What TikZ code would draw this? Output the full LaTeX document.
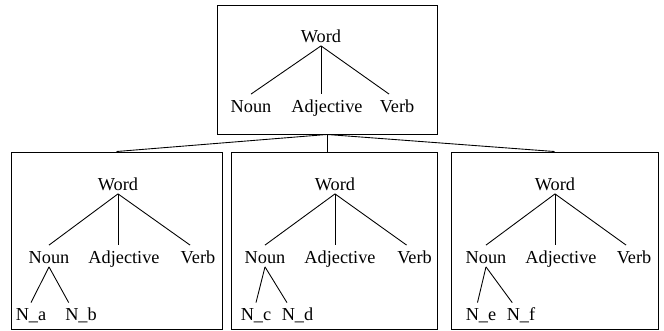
\documentclass[tikz,border=0pt]{standalone}
\usepackage{fontspec}
\setmainfont{Liberation Serif}
\usetikzlibrary{positioning}

\begin{document}
\begin{tikzpicture}[
    item/.style={inner sep=1pt, text height=9pt, text depth=1pt, font=\fontsize{10.4pt}{12pt}\selectfont},
    frame/.style={draw, line width=0.55pt, inner sep=0pt, minimum height=3.54cm},
    branch/.style={line width=0.5pt},
    link/.style={line width=0.5pt}
]
    \useasboundingbox (0,0) rectangle (13.28,-6.62);

    % Frames
    \node[frame, minimum width=4.40cm, minimum height=2.58cm] (topbox) at (6.54,-1.39) {};
    \node[frame, minimum width=4.22cm] (leftbox) at (2.33,-4.81) {};
    \node[frame, minimum width=4.12cm] (midbox) at (6.68,-4.81) {};
    \node[frame, minimum width=4.14cm] (rightbox) at (11.09,-4.81) {};

    % Links between frames
    \draw[link] (topbox.south) -- (leftbox.north);
    \draw[link] (topbox.south) -- (topbox.south |- midbox.north);
    \draw[link] (topbox.south) -- (rightbox.north);

    % Top tree
    \node[item] (word0) at (6.42,-0.70) {Word};
    \node[item] (noun0) at (5.02,-2.10) {Noun};
    \node[item] (adj0) at (6.54,-2.10) {Adjective};
    \node[item] (verb0) at (7.94,-2.10) {Verb};
    \draw[branch] (word0.south) -- (noun0.north);
    \draw[branch] (word0.south) -- (word0.south |- adj0.north);
    \draw[branch] (word0.south) -- ([xshift=-4.5pt]verb0.north);

    % Left tree
    \node[item] (word1) at (2.36,-3.66) {Word};
    \node[item] (noun1) at (0.98,-5.12) {Noun};
    \node[item] (adj1) at (2.48,-5.12) {Adjective};
    \node[item] (verb1) at (3.96,-5.12) {Verb};
    \node[item] (na) at (0.62,-6.27) {N\_a};
    \node[item] (nb) at (1.62,-6.27) {N\_b};
    \draw[branch] (word1.south) -- (noun1.north);
    \draw[branch] (word1.south) -- (word1.south |- adj1.north);
    \draw[branch] (word1.south) -- ([xshift=-4.5pt]verb1.north);
    \draw[branch] (noun1.south) -- (na.north);
    \draw[branch] (noun1.south) -- ([xshift=-7pt]nb.north);

    % Middle tree
    \node[item] (word2) at (6.70,-3.66) {Word};
    \node[item] (noun2) at (5.30,-5.12) {Noun};
    \node[item] (adj2) at (6.80,-5.12) {Adjective};
    \node[item] (verb2) at (8.29,-5.12) {Verb};
    \node[item] (nc) at (5.12,-6.27) {N\_c};
    \node[item] (nd) at (5.95,-6.27) {N\_d};
    \draw[branch] (word2.south) -- (noun2.north);
    \draw[branch] (word2.south) -- (word2.south |- adj2.north);
    \draw[branch] (word2.south) -- ([xshift=-4.5pt]verb2.north);
    \draw[branch] (noun2.south) -- (nc.north);
    \draw[branch] (noun2.south) -- ([xshift=-6pt]nd.north);

    % Right tree
    \node[item] (word3) at (11.10,-3.66) {Word};
    \node[item] (noun3) at (9.72,-5.12) {Noun};
    \node[item] (adj3) at (11.22,-5.12) {Adjective};
    \node[item] (verb3) at (12.68,-5.12) {Verb};
    \node[item] (ne) at (9.62,-6.27) {N\_e};
    \node[item] (nf) at (10.42,-6.27) {N\_f};
    \draw[branch] (word3.south) -- (noun3.north);
    \draw[branch] (word3.south) -- (word3.south |- adj3.north);
    \draw[branch] (word3.south) -- ([xshift=-4.5pt]verb3.north);
    \draw[branch] (noun3.south) -- ([xshift=-2pt]ne.north);
    \draw[branch] (noun3.south) -- ([xshift=-5pt]nf.north);
\end{tikzpicture}
\end{document}
